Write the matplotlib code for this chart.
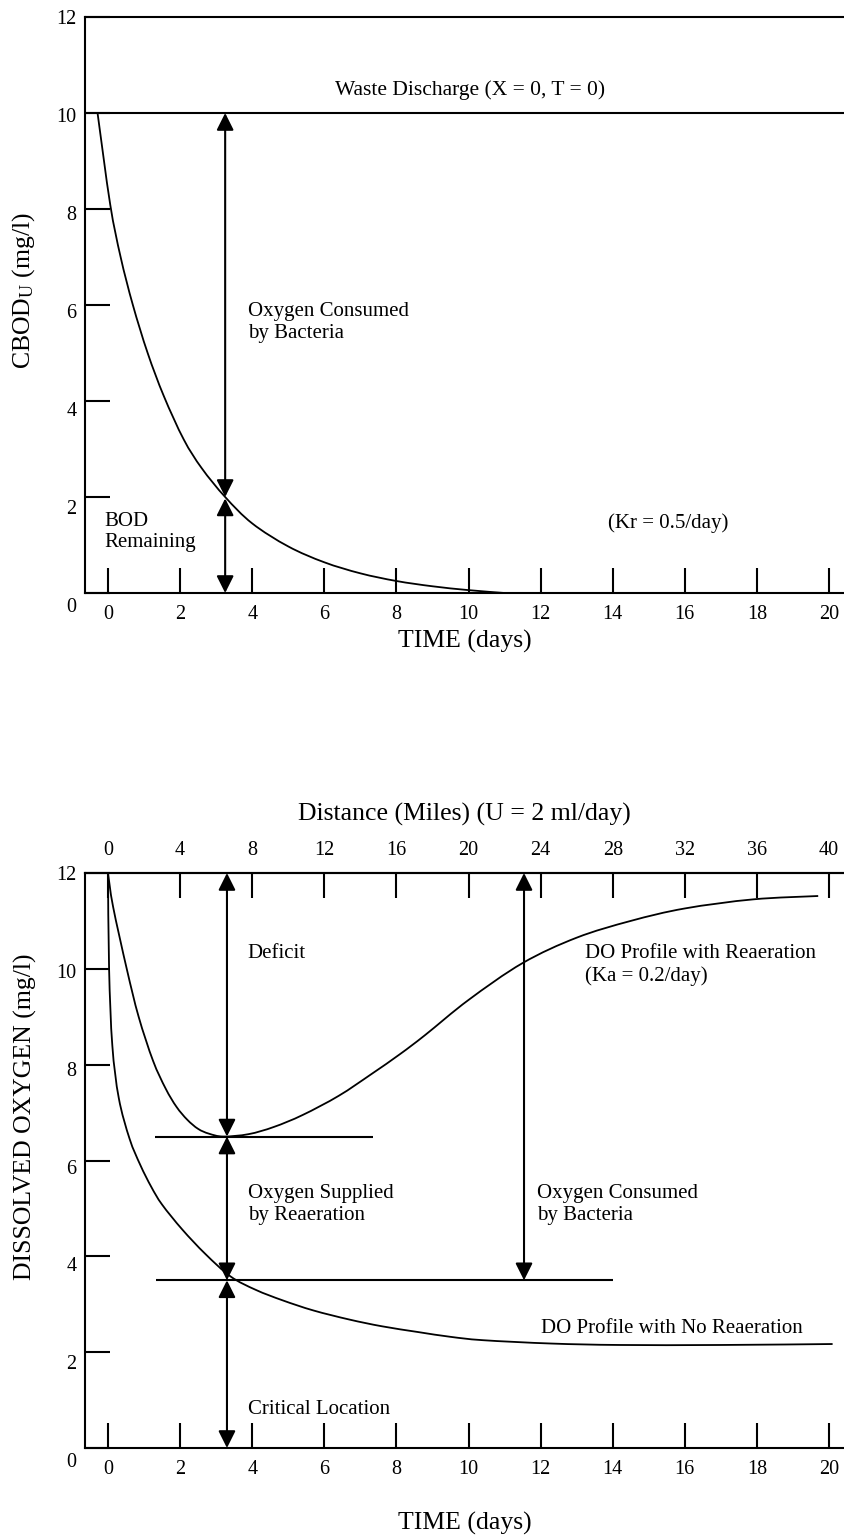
import numpy as np
import matplotlib
matplotlib.use('Agg')
import matplotlib.pyplot as plt
from matplotlib.path import Path
from matplotlib.patches import PathPatch
from matplotlib.transforms import ScaledTranslation

plt.rcParams['font.family'] = ['Liberation Serif', 'DejaVu Serif']
plt.rcParams['mathtext.fontset'] = 'custom'
plt.rcParams['mathtext.rm'] = 'Liberation Serif'
plt.rcParams['mathtext.default'] = 'rm'

# BOD remaining curve (top panel)
bod_t = [-0.29, 0.06, 0.35, 0.69, 1.1, 1.55, 2.1, 2.6, 3.25, 4.0, 5.0, 6.0, 7.0, 8.0, 9.0, 10.0, 11.0]
bod_v = [10.0, 8.1, 7.0, 6.0, 5.0, 4.1, 3.2, 2.6, 2.0, 1.45, 0.97, 0.64, 0.41, 0.25, 0.14, 0.06, 0.0]

# DO with reaeration (bottom panel)
rea_t = [0.0, 0.14, 0.52, 0.85, 1.25, 1.6, 1.9, 2.2, 2.5, 2.8, 3.2, 3.9, 4.6, 5.4, 6.4, 7.3, 8.1,
         8.8, 10.0, 11.5, 13.0, 14.5, 16.0, 17.9, 19.7]
rea_v = [12.0, 11.3, 10.0, 9.0, 8.08, 7.5, 7.12, 6.85, 6.66, 6.56, 6.5, 6.55, 6.7, 6.95, 7.35, 7.8, 8.22,
         8.62, 9.35, 10.12, 10.65, 11.0, 11.26, 11.45, 11.52]

# DO with no reaeration
norea_t = [0.0, 0.03, 0.12, 0.3, 0.6, 0.9, 1.2, 1.5, 2.06, 2.7, 3.4, 4.1, 4.85, 5.7, 6.7, 7.6,
           8.6, 9.5, 10.4, 12.3, 14.2, 17.0, 20.1]
norea_v = [12.0, 10.0, 8.4, 7.3, 6.45, 5.9, 5.45, 5.08, 4.56, 4.05, 3.58, 3.3, 3.08, 2.87, 2.68, 2.54,
           2.42, 2.32, 2.25, 2.18, 2.15, 2.15, 2.17]

time_ticks = list(range(0, 21, 2))
dist_ticks = list(range(0, 41, 4))
y_ticks = list(range(0, 13, 2))


def smooth_curve(ax, xs, ys, lw=1.3):
    # draw a smooth line through the read points (Catmull-Rom as cubic Bezier)
    pts = np.column_stack([xs, ys]).astype(float)
    n = len(pts)
    verts = [pts[0]]
    codes = [Path.MOVETO]
    for i in range(n - 1):
        p0 = pts[i - 1] if i > 0 else pts[i]
        p1 = pts[i]
        p2 = pts[i + 1]
        p3 = pts[i + 2] if i + 2 < n else pts[i + 1]
        verts += [p1 + (p2 - p0) / 6, p2 - (p3 - p1) / 6, p2]
        codes += [Path.CURVE4] * 3
    ax.add_patch(PathPatch(Path(verts, codes), facecolor='none', edgecolor='black', lw=lw))


LW = 1.5
fig = plt.figure(figsize=(8.44, 15.37), dpi=100)
ax1 = fig.add_axes([85 / 844, 1 - 593 / 1537, 759 / 844, 576 / 1537])
ax2 = fig.add_axes([85 / 844, 1 - 1448 / 1537, 759 / 844, 575 / 1537])

for ax in (ax1, ax2):
    ax.set_xlim(-0.638, 20.416)
    ax.set_ylim(0, 12)
    ax.set_xticks(time_ticks)
    ax.set_yticks(y_ticks)
    ax.tick_params(direction='in', length=18, width=LW, labelsize=14.5, pad=9)
    ax.tick_params(axis='y', pad=6)
    ax.spines['right'].set_visible(False)
    for s in ('left', 'top', 'bottom'):
        ax.spines[s].set_linewidth(LW)
    # the y labels sit a little below their ticks, more so near the bottom
    for v, lab in zip(y_ticks, ax.get_yticklabels()):
        dy = (12 - v) / 100
        lab.set_transform(lab.get_transform() + ScaledTranslation(0, -dy, fig.dpi_scale_trans))
    ax.set_xlabel('TIME (days)', fontsize=18.5)

arrow = dict(arrowstyle='<|-|>', mutation_scale=26, color='black', lw=LW, shrinkA=0, shrinkB=0)
tfs = 15

# top panel
smooth_curve(ax1, bod_t, bod_v)
ax1.axhline(10, color='black', lw=LW)
ax1.annotate('', xy=(3.25, 10), xytext=(3.25, 2.0), arrowprops=arrow)
ax1.annotate('', xy=(3.25, 1.97), xytext=(3.25, 0), arrowprops=arrow)
ax1.text(10.04, 10.48, 'Waste Discharge (X = 0, T = 0)', ha='center', va='center', fontsize=15.5)
ax1.text(3.88, 5.63, 'Oxygen Consumed\nby Bacteria', ha='left', va='center', fontsize=tfs)
ax1.text(-0.11, 1.27, 'BOD\nRemaining', ha='left', va='center', fontsize=tfs)
ax1.text(13.87, 1.46, '(Kr = 0.5/day)', ha='left', va='center', fontsize=tfs)
ax1.set_ylabel('CBOD$_{U}$ (mg/l)', fontsize=18.5)
ax1.xaxis.set_label_coords(0.5, -0.064)
ax1.yaxis.set_label_coords(-0.063, 0.526)

# bottom panel
smooth_curve(ax2, rea_t, rea_v)
smooth_curve(ax2, norea_t, norea_v)
ax2.hlines(6.5, 1.3, 7.35, color='black', lw=LW)
ax2.hlines(3.5, 1.33, 14.0, color='black', lw=LW)
ax2.annotate('', xy=(3.3, 12), xytext=(3.3, 6.5), arrowprops=arrow)
ax2.annotate('', xy=(3.3, 6.5), xytext=(3.3, 3.5), arrowprops=arrow)
ax2.annotate('', xy=(3.3, 3.5), xytext=(3.3, 0), arrowprops=arrow)
ax2.annotate('', xy=(11.54, 12), xytext=(11.54, 3.5), arrowprops=arrow)
ax2.text(3.88, 10.33, 'Deficit', ha='left', va='center', fontsize=tfs)
ax2.text(13.23, 10.08, 'DO Profile with Reaeration\n(Ka = 0.2/day)', ha='left', va='center', fontsize=tfs)
ax2.text(3.88, 5.08, 'Oxygen Supplied\nby Reaeration', ha='left', va='center', fontsize=tfs)
ax2.text(11.9, 5.08, 'Oxygen Consumed\nby Bacteria', ha='left', va='center', fontsize=tfs)
ax2.text(12.01, 2.5, 'DO Profile with No Reaeration', ha='left', va='center', fontsize=tfs)
ax2.text(3.88, 0.81, 'Critical Location', ha='left', va='center', fontsize=tfs)
ax2.set_ylabel('DISSOLVED OXYGEN (mg/l)', fontsize=18.5)
ax2.xaxis.set_label_coords(0.5, -0.111)
ax2.yaxis.set_label_coords(-0.063, 0.576)

sec = ax2.secondary_xaxis('top', functions=(lambda t: 2 * t, lambda d: d / 2))
sec.set_xticks(dist_ticks)
sec.tick_params(direction='in', length=18, width=LW, labelsize=14.5, pad=9)
sec.spines['top'].set_linewidth(LW)
sec.set_xlabel('Distance (Miles) (U = 2 ml/day)', fontsize=18.5, labelpad=15)

fig.savefig('out.png', dpi=100)
